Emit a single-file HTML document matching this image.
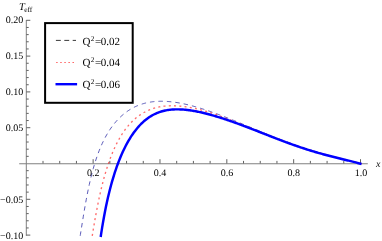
<!DOCTYPE html>
<html><head><meta charset="utf-8"><title>T_eff plot</title>
<style>html,body{margin:0;padding:0;background:#fff;}body{width:382px;height:241px;position:relative;overflow:hidden;font-family:"Liberation Serif",serif;}</style></head>
<body>
<svg width="382" height="241" viewBox="0 0 382 241" style="position:absolute;left:0;top:0;will-change:transform">
<rect width="382" height="241" fill="#fff"/>
<g stroke="#808080" stroke-width="1" fill="none">
<line x1="19.2" y1="163.75" x2="367.8" y2="163.75"/>
<line x1="26.3" y1="20" x2="26.3" y2="235.8"/>
</g>
<g stroke="#606060" stroke-width="1" fill="none">
<line x1="43.01" y1="163.5" x2="43.01" y2="160.9"/>
<line x1="59.72" y1="163.5" x2="59.72" y2="160.9"/>
<line x1="76.43" y1="163.5" x2="76.43" y2="160.9"/>
<line x1="93.14" y1="163.5" x2="93.14" y2="159.2"/>
<line x1="109.85" y1="163.5" x2="109.85" y2="160.9"/>
<line x1="126.56" y1="163.5" x2="126.56" y2="160.9"/>
<line x1="143.27" y1="163.5" x2="143.27" y2="160.9"/>
<line x1="159.98" y1="163.5" x2="159.98" y2="159.2"/>
<line x1="176.69" y1="163.5" x2="176.69" y2="160.9"/>
<line x1="193.40" y1="163.5" x2="193.40" y2="160.9"/>
<line x1="210.11" y1="163.5" x2="210.11" y2="160.9"/>
<line x1="226.82" y1="163.5" x2="226.82" y2="159.2"/>
<line x1="243.53" y1="163.5" x2="243.53" y2="160.9"/>
<line x1="260.24" y1="163.5" x2="260.24" y2="160.9"/>
<line x1="276.95" y1="163.5" x2="276.95" y2="160.9"/>
<line x1="293.66" y1="163.5" x2="293.66" y2="159.2"/>
<line x1="310.37" y1="163.5" x2="310.37" y2="160.9"/>
<line x1="327.08" y1="163.5" x2="327.08" y2="160.9"/>
<line x1="343.79" y1="163.5" x2="343.79" y2="160.9"/>
<line x1="360.50" y1="163.5" x2="360.50" y2="159.2"/>
<line x1="26.3" y1="235.10" x2="30.3" y2="235.10"/>
<line x1="26.3" y1="227.94" x2="28.7" y2="227.94"/>
<line x1="26.3" y1="220.78" x2="28.7" y2="220.78"/>
<line x1="26.3" y1="213.62" x2="28.7" y2="213.62"/>
<line x1="26.3" y1="206.46" x2="28.7" y2="206.46"/>
<line x1="26.3" y1="199.30" x2="30.3" y2="199.30"/>
<line x1="26.3" y1="192.14" x2="28.7" y2="192.14"/>
<line x1="26.3" y1="184.98" x2="28.7" y2="184.98"/>
<line x1="26.3" y1="177.82" x2="28.7" y2="177.82"/>
<line x1="26.3" y1="170.66" x2="28.7" y2="170.66"/>
<line x1="26.3" y1="156.34" x2="28.7" y2="156.34"/>
<line x1="26.3" y1="149.18" x2="28.7" y2="149.18"/>
<line x1="26.3" y1="142.02" x2="28.7" y2="142.02"/>
<line x1="26.3" y1="134.86" x2="28.7" y2="134.86"/>
<line x1="26.3" y1="127.70" x2="30.3" y2="127.70"/>
<line x1="26.3" y1="120.54" x2="28.7" y2="120.54"/>
<line x1="26.3" y1="113.38" x2="28.7" y2="113.38"/>
<line x1="26.3" y1="106.22" x2="28.7" y2="106.22"/>
<line x1="26.3" y1="99.06" x2="28.7" y2="99.06"/>
<line x1="26.3" y1="91.90" x2="30.3" y2="91.90"/>
<line x1="26.3" y1="84.74" x2="28.7" y2="84.74"/>
<line x1="26.3" y1="77.58" x2="28.7" y2="77.58"/>
<line x1="26.3" y1="70.42" x2="28.7" y2="70.42"/>
<line x1="26.3" y1="63.26" x2="28.7" y2="63.26"/>
<line x1="26.3" y1="56.10" x2="30.3" y2="56.10"/>
<line x1="26.3" y1="48.94" x2="28.7" y2="48.94"/>
<line x1="26.3" y1="41.78" x2="28.7" y2="41.78"/>
<line x1="26.3" y1="34.62" x2="28.7" y2="34.62"/>
<line x1="26.3" y1="27.46" x2="28.7" y2="27.46"/>
<line x1="26.3" y1="20.30" x2="30.3" y2="20.30"/>
</g>
<path d="M80.05,236.70 L80.39,234.62 L81.38,228.41 L82.36,222.23 L83.35,216.17 L84.33,210.29 L85.32,204.65 L86.31,199.25 L87.29,194.12 L88.28,189.26 L89.27,184.66 L90.25,180.32 L91.24,176.22 L92.23,172.36 L93.21,168.71 L94.20,165.28 L95.18,162.04 L96.17,158.98 L97.16,156.09 L98.14,153.36 L99.13,150.77 L100.12,148.32 L101.10,145.99 L102.09,143.78 L103.08,141.69 L104.06,139.69 L105.05,137.79 L106.03,135.97 L107.02,134.24 L108.01,132.59 L108.99,131.02 L109.98,129.51 L110.97,128.06 L111.95,126.68 L112.94,125.36 L113.93,124.09 L114.91,122.88 L115.90,121.72 L116.88,120.60 L117.87,119.53 L118.86,118.51 L119.84,117.53 L120.83,116.58 L121.82,115.68 L122.80,114.82 L123.79,113.99 L124.78,113.20 L125.76,112.44 L126.75,111.72 L127.73,111.03 L128.72,110.36 L129.71,109.73 L130.69,109.13 L131.68,108.55 L132.67,108.01 L133.65,107.49 L134.64,106.99 L135.63,106.52 L136.61,106.08 L137.60,105.66 L138.58,105.26 L139.57,104.88 L140.56,104.53 L141.54,104.20 L142.53,103.89 L143.52,103.60 L144.50,103.32 L145.49,103.07 L146.48,102.84 L147.46,102.62 L148.45,102.42 L149.43,102.24 L150.42,102.08 L151.41,101.93 L152.39,101.79 L153.38,101.68 L154.37,101.58 L155.35,101.49 L156.34,101.41 L157.33,101.35 L158.31,101.31 L159.30,101.28 L160.28,101.26 L161.27,101.25 L162.26,101.25 L163.24,101.27 L164.23,101.30 L165.22,101.34 L166.20,101.39 L167.19,101.45 L168.18,101.52 L169.16,101.60 L170.15,101.69 L171.13,101.79 L172.12,101.90 L173.11,102.02 L174.09,102.15 L175.08,102.29 L176.07,102.44 L177.05,102.59 L178.04,102.75 L179.03,102.92 L180.01,103.10 L181.00,103.29 L181.98,103.48 L182.97,103.68 L183.96,103.89 L184.94,104.10 L185.93,104.32 L186.92,104.55 L187.90,104.78 L188.89,105.02 L189.88,105.27 L190.86,105.52 L191.85,105.78 L192.83,106.04 L193.82,106.31 L194.81,106.59 L195.79,106.87 L196.78,107.15 L197.77,107.44 L198.75,107.73 L199.74,108.03 L200.73,108.34 L201.71,108.64 L202.70,108.96 L203.68,109.27 L204.67,109.59 L205.66,109.92 L206.64,110.25 L207.63,110.58 L208.62,110.91 L209.60,111.25 L210.59,111.60 L211.58,111.94 L212.56,112.29 L213.55,112.65 L214.53,113.00 L215.52,113.36 L216.51,113.73 L217.49,114.09 L218.48,114.46 L219.47,114.83 L220.45,115.20 L221.44,115.58 L222.43,115.96 L223.41,116.34 L224.40,116.72 L225.38,117.10 L226.37,117.49 L227.36,117.88 L228.34,118.27 L229.33,118.66 L230.32,119.05 L231.30,119.45 L232.29,119.85 L233.28,120.24 L234.26,120.64 L235.25,121.04 L236.23,121.45 L237.22,121.85 L238.21,122.25 L239.19,122.66 L240.18,123.06 L241.17,123.47 L242.15,123.88 L243.14,124.29 L244.13,124.70 L245.11,125.10 L246.10,125.51 L247.08,125.92 L248.07,126.33 L249.06,126.74 L250.04,127.15 L251.03,127.56 L252.02,127.97 L253.00,128.38 L253.99,128.79 L254.97,129.20 L255.96,129.61 L256.95,130.02 L257.93,130.43 L258.92,130.84 L259.91,131.24 L260.89,131.65 L261.88,132.06 L262.87,132.46 L263.85,132.87 L264.84,133.27 L265.82,133.67 L266.81,134.07 L267.80,134.47 L268.78,134.87 L269.77,135.27 L270.76,135.67 L271.74,136.06 L272.73,136.45 L273.72,136.85 L274.70,137.24 L275.69,137.63 L276.67,138.01 L277.66,138.40 L278.65,138.78 L279.63,139.17 L280.62,139.55 L281.61,139.92 L282.59,140.30 L283.58,140.68 L284.57,141.05 L285.55,141.42 L286.54,141.79 L287.52,142.16 L288.51,142.52 L289.50,142.88 L290.48,143.24 L291.47,143.60 L292.46,143.96 L293.44,144.31 L294.43,144.66 L295.42,145.01 L296.40,145.36 L297.39,145.70 L298.37,146.04 L299.36,146.38 L300.35,146.72 L301.33,147.06 L302.32,147.39 L303.31,147.72 L304.29,148.04 L305.28,148.37 L306.27,148.69 L307.25,149.01 L308.24,149.33 L309.22,149.64 L310.21,149.96 L311.20,150.27 L312.18,150.58 L313.17,150.88 L314.16,151.18 L315.14,151.48 L316.13,151.78 L317.12,152.08 L318.10,152.37 L319.09,152.66 L320.07,152.95 L321.06,153.24 L322.05,153.52 L323.03,153.81 L324.02,154.09 L325.01,154.36 L325.99,154.64 L326.98,154.91 L327.97,155.18 L328.95,155.45 L329.94,155.72 L330.92,155.99 L331.91,156.25 L332.90,156.52 L333.88,156.78 L334.87,157.04 L335.86,157.29 L336.84,157.55 L337.83,157.81 L338.82,158.06 L339.80,158.31 L340.79,158.56 L341.77,158.81 L342.76,159.06 L343.75,159.31 L344.73,159.56 L345.72,159.81 L346.71,160.05 L347.69,160.30 L348.68,160.55 L349.67,160.79 L350.65,161.04 L351.64,161.28 L352.62,161.53 L353.61,161.77 L354.60,162.02 L355.58,162.26 L356.57,162.51 L357.56,162.76 L358.54,163.00 L359.53,163.25 L360.52,163.50 L361.50,163.76" fill="none" stroke="#3434a8" stroke-width="0.95" stroke-dasharray="4.5 3.98" stroke-dashoffset="-0.9" stroke-opacity="0.85"/>
<path d="M92.12,236.70 L92.23,236.00 L93.21,229.91 L94.20,224.03 L95.18,218.38 L96.17,212.97 L97.16,207.80 L98.14,202.86 L99.13,198.15 L100.12,193.67 L101.10,189.40 L102.09,185.34 L103.08,181.47 L104.06,177.79 L105.05,174.29 L106.03,170.96 L107.02,167.79 L108.01,164.77 L108.99,161.89 L109.98,159.15 L110.97,156.54 L111.95,154.04 L112.94,151.66 L113.93,149.39 L114.91,147.22 L115.90,145.15 L116.88,143.17 L117.87,141.28 L118.86,139.47 L119.84,137.74 L120.83,136.08 L121.82,134.50 L122.80,132.98 L123.79,131.53 L124.78,130.14 L125.76,128.81 L126.75,127.54 L127.73,126.32 L128.72,125.15 L129.71,124.04 L130.69,122.97 L131.68,121.95 L132.67,120.98 L133.65,120.04 L134.64,119.15 L135.63,118.30 L136.61,117.49 L137.60,116.71 L138.58,115.97 L139.57,115.27 L140.56,114.59 L141.54,113.95 L142.53,113.35 L143.52,112.77 L144.50,112.22 L145.49,111.70 L146.48,111.20 L147.46,110.74 L148.45,110.30 L149.43,109.88 L150.42,109.49 L151.41,109.12 L152.39,108.78 L153.38,108.45 L154.37,108.15 L155.35,107.87 L156.34,107.61 L157.33,107.36 L158.31,107.14 L159.30,106.94 L160.28,106.75 L161.27,106.58 L162.26,106.43 L163.24,106.30 L164.23,106.18 L165.22,106.07 L166.20,105.98 L167.19,105.91 L168.18,105.85 L169.16,105.80 L170.15,105.77 L171.13,105.75 L172.12,105.74 L173.11,105.75 L174.09,105.77 L175.08,105.80 L176.07,105.84 L177.05,105.89 L178.04,105.96 L179.03,106.03 L180.01,106.11 L181.00,106.21 L181.98,106.31 L182.97,106.43 L183.96,106.55 L184.94,106.68 L185.93,106.83 L186.92,106.98 L187.90,107.14 L188.89,107.30 L189.88,107.48 L190.86,107.66 L191.85,107.85 L192.83,108.05 L193.82,108.26 L194.81,108.47 L195.79,108.69 L196.78,108.91 L197.77,109.15 L198.75,109.39 L199.74,109.63 L200.73,109.88 L201.71,110.14 L202.70,110.41 L203.68,110.67 L204.67,110.95 L205.66,111.23 L206.64,111.52 L207.63,111.81 L208.62,112.10 L209.60,112.40 L210.59,112.71 L211.58,113.02 L212.56,113.33 L213.55,113.65 L214.53,114.00 L215.52,114.36 L216.51,114.72 L217.49,115.08 L218.48,115.44 L219.47,115.81 L220.45,116.18 L221.44,116.55 L222.43,116.92 L223.41,117.30 L224.40,117.67 L225.38,118.05 L226.37,118.43 L227.36,118.81 L228.34,119.19 L229.33,119.58 L230.32,119.96 L231.30,120.35 L232.29,120.74 L233.28,121.13 L234.26,121.52 L235.25,121.91 L236.23,122.30 L237.22,122.69 L238.21,123.09 L239.19,123.48 L240.18,123.88 L241.17,124.27 L242.15,124.67 L243.14,125.06 L244.13,125.46 L245.11,125.86 L246.10,126.26 L247.08,126.65 L248.07,127.04 L249.06,127.43 L250.04,127.82 L251.03,128.21 L252.02,128.60 L253.00,128.99 L253.99,129.38 L254.97,129.77 L255.96,130.17 L256.95,130.56 L257.93,130.95 L258.92,131.35 L259.91,131.74 L260.89,132.13 L261.88,132.53 L262.87,132.92 L263.85,133.31 L264.84,133.71 L265.82,134.10 L266.81,134.49 L267.80,134.88 L268.78,135.27 L269.77,135.66 L270.76,136.05 L271.74,136.44 L272.73,136.82 L273.72,137.21 L274.70,137.60 L275.69,137.98 L276.67,138.36 L277.66,138.74 L278.65,139.12 L279.63,139.50 L280.62,139.88 L281.61,140.25 L282.59,140.63 L283.58,141.00 L284.57,141.37 L285.55,141.73 L286.54,142.10 L287.52,142.46 L288.51,142.83 L289.50,143.18 L290.48,143.54 L291.47,143.90 L292.46,144.25 L293.44,144.60 L294.43,144.95 L295.42,145.30 L296.40,145.64 L297.39,145.98 L298.37,146.32 L299.36,146.65 L300.35,146.99 L301.33,147.32 L302.32,147.65 L303.31,147.97 L304.29,148.29 L305.28,148.61 L306.27,148.93 L307.25,149.25 L308.24,149.56 L309.22,149.87 L310.21,150.17 L311.20,150.48 L312.18,150.78 L313.17,151.08 L314.16,151.37 L315.14,151.67 L316.13,151.96 L317.12,152.24 L318.10,152.53 L319.09,152.81 L320.07,153.09 L321.06,153.37 L322.05,153.64 L323.03,153.92 L324.02,154.19 L325.01,154.46 L325.99,154.72 L326.98,154.99 L327.97,155.25 L328.95,155.51 L329.94,155.76 L330.92,156.02 L331.91,156.28 L332.90,156.53 L333.88,156.78 L334.87,157.03 L335.86,157.28 L336.84,157.52 L337.83,157.77 L338.82,158.02 L339.80,158.26 L340.79,158.50 L341.77,158.75 L342.76,158.99 L343.75,159.23 L344.73,159.48 L345.72,159.72 L346.71,159.96 L347.69,160.20 L348.68,160.45 L349.67,160.69 L350.65,160.94 L351.64,161.19 L352.62,161.44 L353.61,161.69 L354.60,161.94 L355.58,162.19 L356.57,162.45 L357.56,162.71 L358.54,162.97 L359.53,163.24 L360.52,163.50 L361.50,163.78" fill="none" stroke="#ff2020" stroke-width="1.35" stroke-dasharray="2.0 3.28" stroke-dashoffset="-0.88" stroke-opacity="0.66"/>
<path d="M100.67,236.70 L101.10,233.81 L102.09,227.58 L103.08,221.72 L104.06,216.21 L105.05,211.01 L106.03,206.10 L107.02,201.47 L108.01,197.08 L108.99,192.93 L109.98,188.99 L110.97,185.25 L111.95,181.68 L112.94,178.29 L113.93,175.06 L114.91,171.97 L115.90,169.03 L116.88,166.21 L117.87,163.51 L118.86,160.92 L119.84,158.45 L120.83,156.07 L121.82,153.79 L122.80,151.60 L123.79,149.50 L124.78,147.48 L125.76,145.54 L126.75,143.68 L127.73,141.89 L128.72,140.17 L129.71,138.52 L130.69,136.93 L131.68,135.41 L132.67,133.95 L133.65,132.55 L134.64,131.20 L135.63,129.91 L136.61,128.67 L137.60,127.49 L138.58,126.36 L139.57,125.27 L140.56,124.23 L141.54,123.24 L142.53,122.30 L143.52,121.39 L144.50,120.53 L145.49,119.71 L146.48,118.93 L147.46,118.19 L148.45,117.49 L149.43,116.82 L150.42,116.19 L151.41,115.59 L152.39,115.03 L153.38,114.50 L154.37,114.00 L155.35,113.53 L156.34,113.08 L157.33,112.67 L158.31,112.28 L159.30,111.92 L160.28,111.59 L161.27,111.28 L162.26,111.00 L163.24,110.73 L164.23,110.50 L165.22,110.28 L166.20,110.08 L167.19,109.90 L168.18,109.75 L169.16,109.61 L170.15,109.49 L171.13,109.39 L172.12,109.30 L173.11,109.23 L174.09,109.18 L175.08,109.14 L176.07,109.11 L177.05,109.11 L178.04,109.11 L179.03,109.13 L180.01,109.16 L181.00,109.20 L181.98,109.25 L182.97,109.32 L183.96,109.40 L184.94,109.48 L185.93,109.58 L186.92,109.69 L187.90,109.81 L188.89,109.93 L189.88,110.07 L190.86,110.21 L191.85,110.36 L192.83,110.52 L193.82,110.69 L194.81,110.87 L195.79,111.05 L196.78,111.24 L197.77,111.44 L198.75,111.64 L199.74,111.85 L200.73,112.07 L201.71,112.29 L202.70,112.52 L203.68,112.76 L204.67,113.00 L205.66,113.24 L206.64,113.49 L207.63,113.75 L208.62,114.01 L209.60,114.27 L210.59,114.54 L211.58,114.82 L212.56,115.10 L213.55,115.38 L214.53,115.67 L215.52,115.96 L216.51,116.25 L217.49,116.55 L218.48,116.86 L219.47,117.16 L220.45,117.47 L221.44,117.79 L222.43,118.10 L223.41,118.43 L224.40,118.75 L225.38,119.08 L226.37,119.41 L227.36,119.74 L228.34,120.07 L229.33,120.41 L230.32,120.75 L231.30,121.10 L232.29,121.45 L233.28,121.79 L234.26,122.15 L235.25,122.50 L236.23,122.86 L237.22,123.21 L238.21,123.57 L239.19,123.94 L240.18,124.30 L241.17,124.67 L242.15,125.04 L243.14,125.41 L244.13,125.78 L245.11,126.15 L246.10,126.52 L247.08,126.90 L248.07,127.28 L249.06,127.66 L250.04,128.03 L251.03,128.42 L252.02,128.80 L253.00,129.18 L253.99,129.56 L254.97,129.95 L255.96,130.33 L256.95,130.72 L257.93,131.10 L258.92,131.49 L259.91,131.88 L260.89,132.26 L261.88,132.65 L262.87,133.04 L263.85,133.43 L264.84,133.81 L265.82,134.20 L266.81,134.59 L267.80,134.97 L268.78,135.36 L269.77,135.75 L270.76,136.13 L271.74,136.52 L272.73,136.90 L273.72,137.28 L274.70,137.66 L275.69,138.04 L276.67,138.42 L277.66,138.80 L278.65,139.18 L279.63,139.56 L280.62,139.93 L281.61,140.31 L282.59,140.68 L283.58,141.05 L284.57,141.42 L285.55,141.78 L286.54,142.15 L287.52,142.51 L288.51,142.87 L289.50,143.23 L290.48,143.59 L291.47,143.94 L292.46,144.30 L293.44,144.65 L294.43,145.00 L295.42,145.34 L296.40,145.69 L297.39,146.03 L298.37,146.37 L299.36,146.70 L300.35,147.04 L301.33,147.37 L302.32,147.69 L303.31,148.02 L304.29,148.34 L305.28,148.66 L306.27,148.98 L307.25,149.30 L308.24,149.61 L309.22,149.92 L310.21,150.22 L311.20,150.53 L312.18,150.83 L313.17,151.12 L314.16,151.42 L315.14,151.71 L316.13,152.00 L317.12,152.29 L318.10,152.57 L319.09,152.85 L320.07,153.13 L321.06,153.41 L322.05,153.68 L323.03,153.96 L324.02,154.22 L325.01,154.49 L325.99,154.75 L326.98,155.02 L327.97,155.28 L328.95,155.53 L329.94,155.79 L330.92,156.04 L331.91,156.30 L332.90,156.55 L333.88,156.80 L334.87,157.04 L335.86,157.29 L336.84,157.53 L337.83,157.78 L338.82,158.02 L339.80,158.26 L340.79,158.50 L341.77,158.75 L342.76,158.99 L343.75,159.23 L344.73,159.47 L345.72,159.71 L346.71,159.95 L347.69,160.19 L348.68,160.43 L349.67,160.68 L350.65,160.92 L351.64,161.17 L352.62,161.42 L353.61,161.67 L354.60,161.92 L355.58,162.18 L356.57,162.44 L357.56,162.70 L358.54,162.96 L359.53,163.23 L360.52,163.50 L361.50,163.78" fill="none" stroke="#0000ff" stroke-width="2.45" stroke-linecap="butt" transform="translate(0,0.25)"/>
<rect x="45.1" y="23.1" width="87.6" height="79.7" fill="#fff" stroke="#000" stroke-width="2"/>
<line x1="55.9" y1="40.4" x2="76" y2="40.4" stroke="#222" stroke-width="0.9" stroke-dasharray="4.9 3.5"/>
<line x1="56.15" y1="62.5" x2="74.6" y2="62.5" stroke="#ff2020" stroke-width="1.2" stroke-dasharray="1.5 2.58" stroke-opacity="0.7"/>
<line x1="55.5" y1="84.2" x2="77.1" y2="84.2" stroke="#0000ff" stroke-width="2.4"/>
<g font-family="Liberation Serif, serif" fill="#000" text-rendering="geometricPrecision">
<text y="44.7" font-size="11"><tspan x="82.5">Q</tspan><tspan x="90.8" dy="-4.1" font-size="7.2">2</tspan><tspan x="95.0" dy="4.1">=</tspan><tspan x="100.65">0.02</tspan></text>
<text y="66.2" font-size="11"><tspan x="82.5">Q</tspan><tspan x="90.8" dy="-4.1" font-size="7.2">2</tspan><tspan x="95.0" dy="4.1">=</tspan><tspan x="100.65">0.04</tspan></text>
<text y="88.0" font-size="11"><tspan x="82.5">Q</tspan><tspan x="90.8" dy="-4.1" font-size="7.2">2</tspan><tspan x="95.0" dy="4.1">=</tspan><tspan x="100.65">0.06</tspan></text>
<text x="5.70" y="23.0" font-size="10" textLength="17.5" lengthAdjust="spacing">0.20</text>
<text x="5.70" y="59.3" font-size="10" textLength="17.5" lengthAdjust="spacing">0.15</text>
<text x="5.70" y="95.2" font-size="10" textLength="17.5" lengthAdjust="spacing">0.10</text>
<text x="5.70" y="130.95" font-size="10" textLength="17.5" lengthAdjust="spacing">0.05</text>
<text x="0.06" y="203.0" font-size="10" textLength="23.14" lengthAdjust="spacing">−0.05</text>
<text x="0.06" y="239.0" font-size="10" textLength="23.14" lengthAdjust="spacing">−0.10</text>
<text x="87.05" y="175.6" font-size="10" textLength="12.5" lengthAdjust="spacing">0.2</text>
<text x="153.85" y="175.6" font-size="10" textLength="12.5" lengthAdjust="spacing">0.4</text>
<text x="220.65" y="175.6" font-size="10" textLength="12.5" lengthAdjust="spacing">0.6</text>
<text x="287.45" y="175.6" font-size="10" textLength="12.5" lengthAdjust="spacing">0.8</text>
<text x="354.75" y="175.6" font-size="10" textLength="12.5" lengthAdjust="spacing">1.0</text>
<text x="19.0" y="9.8" font-size="10.5" font-style="italic">T<tspan dy="1.8" dx="-0.7" font-size="7.5" font-style="normal">eff</tspan></text>
<text x="376" y="167.2" font-size="10" font-style="italic">x</text>
</g>
</svg>
</body></html>
